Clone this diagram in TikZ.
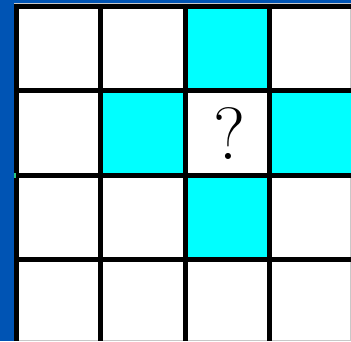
\documentclass[tikz,border=0pt]{standalone}
\definecolor{bgblue}{RGB}{0,84,180}
\definecolor{cyanfill}{RGB}{0,255,255}
\definecolor{edgegray}{RGB}{200,200,200}
\definecolor{dotgreen}{RGB}{40,200,130}
\tikzset{
  gridline/.style={line width=5pt, black},
  cell/.style={fill=cyanfill, draw=none},
}
\begin{document}
\begin{tikzpicture}[x=1pt,y=-1pt]
\useasboundingbox (0,0) rectangle (351,341);
\fill[bgblue] (0,0) rectangle (351,341);
\fill[white] (14,3) rectangle (351,341);
\draw[edgegray, line width=1pt] (14,3.5) -- (351,3.5);
\draw[edgegray, line width=1pt] (350.5,3) -- (350.5,341);
\draw[edgegray, line width=1pt] (14,340.5) -- (351,340.5);
% cyan cells
\fill[cell] (185.1,6.5) rectangle (269.4,90.8);
\fill[cell] (100.8,90.8) rectangle (185.1,175.1);
\fill[cell] (269.4,90.8) rectangle (353.7,175.1);
\fill[cell] (185.1,175.1) rectangle (269.4,259.4);
% grid lines
\foreach \x in {16.5,100.8,185.1,269.4} \draw[gridline] (\x,4) -- (\x,341);
\foreach \y in {6.5,90.8,175.1,259.4} \draw[gridline] (14,\y) -- (351,\y);
\fill[dotgreen] (14,172.5) rectangle (16,177.5);
\node (q) at (230,133.5) {\fontsize{74}{74}\selectfont ?};
\end{tikzpicture}
\end{document}
